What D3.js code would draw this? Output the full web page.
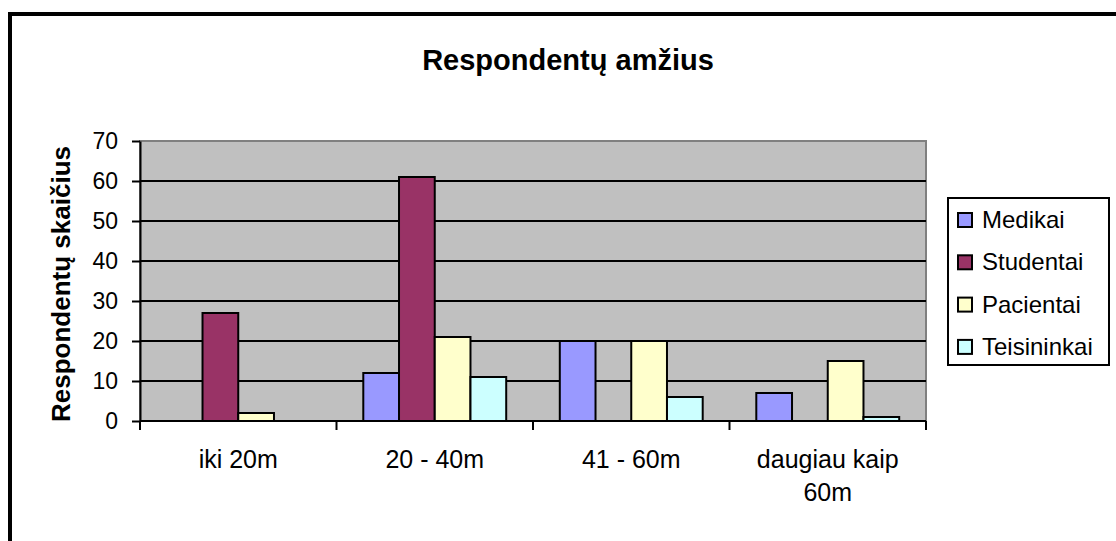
<!DOCTYPE html>
<html>
<head>
<meta charset="utf-8">
<script src="https://cdn.jsdelivr.net/npm/d3@7"></script>
<style>
  body { margin: 0; background: #fff; }
  text { font-family: "Liberation Sans", Arial, sans-serif; fill: #000; }
</style>
</head>
<body>
<svg id="chart" width="1116" height="541"></svg>
<script>
const categories = ["iki 20m", "20 - 40m", "41 - 60m", "daugiau kaip 60m"];
const seriesNames = ["Medikai", "Studentai", "Pacientai", "Teisininkai"];
const medikai = [0, 12, 20, 7];
const studentai = [27, 61, 0, 0];
const pacientai = [2, 21, 20, 15];
const teisininkai = [0, 11, 6, 1];
const yTicks = [0, 10, 20, 30, 40, 50, 60, 70];
const colors = ["#9999ff", "#993366", "#ffffcc", "#ccffff"];

const values = [medikai, studentai, pacientai, teisininkai];
const plot = { left: 140, top: 141, right: 926, bottom: 421 };

const svg = d3.select("#chart");

// outer chart frame (runs off the right and bottom of the picture)
svg.append("rect")
  .attr("x", 10).attr("y", 14)
  .attr("width", 1200).attr("height", 600)
  .attr("fill", "#fff")
  .attr("stroke", "#000")
  .attr("stroke-width", 4);

svg.append("text")
  .attr("x", 568).attr("y", 70)
  .attr("text-anchor", "middle")
  .style("font-size", "29px")
  .style("font-weight", "bold")
  .text("Respondentų amžius");

const x0 = d3.scaleBand()
  .domain(categories)
  .range([plot.left, plot.right]);

const x1 = d3.scaleBand()
  .domain(seriesNames)
  .range([0, x0.bandwidth()])
  .paddingOuter(0.75);

const y = d3.scaleLinear()
  .domain([0, 70])
  .range([plot.bottom, plot.top]);

// plot background
svg.append("rect")
  .attr("x", plot.left).attr("y", plot.top)
  .attr("width", plot.right - plot.left)
  .attr("height", plot.bottom - plot.top)
  .attr("fill", "#c0c0c0")
  .attr("stroke", "#808080")
  .attr("stroke-width", 2);

// gridlines
svg.append("g")
  .selectAll("line")
  .data(yTicks.filter(d => d > 0 && d < 70))
  .join("line")
    .attr("x1", plot.left).attr("x2", plot.right)
    .attr("y1", d => y(d)).attr("y2", d => y(d))
    .attr("stroke", "#000")
    .attr("stroke-width", 2);

// bars
const rows = categories.map((c, i) => ({ cat: c, vals: seriesNames.map((s, j) => ({ s: s, j: j, v: values[j][i] })) }));

svg.append("g")
  .selectAll("g")
  .data(rows)
  .join("g")
    .attr("transform", d => `translate(${x0(d.cat)},0)`)
  .selectAll("rect")
  .data(d => d.vals.filter(b => b.v > 0))
  .join("rect")
    .attr("x", d => x1(d.s))
    .attr("y", d => y(d.v))
    .attr("width", x1.bandwidth())
    .attr("height", d => y(0) - y(d.v))
    .attr("fill", d => colors[d.j])
    .attr("stroke", "#000")
    .attr("stroke-width", 2);

// y axis
const yAxis = svg.append("g")
  .attr("transform", `translate(${plot.left},0)`)
  .call(d3.axisLeft(y).tickValues(yTicks).tickSize(8).tickSizeOuter(0).tickPadding(14));
yAxis.select(".domain").attr("stroke", "#000").attr("stroke-width", 2);
yAxis.selectAll(".tick line").attr("stroke", "#000").attr("stroke-width", 2);
yAxis.selectAll(".tick text")
  .style("font-size", "23px")
  .style("font-family", "'Liberation Sans', Arial, sans-serif")
  .attr("fill", "#000");

svg.append("text")
  .attr("transform", "translate(70,284) rotate(-90)")
  .attr("text-anchor", "middle")
  .style("font-size", "26px")
  .style("font-weight", "bold")
  .text("Respondentų skaičius");

// x axis line and boundary ticks
svg.append("line")
  .attr("x1", plot.left).attr("x2", plot.right)
  .attr("y1", plot.bottom).attr("y2", plot.bottom)
  .attr("stroke", "#000").attr("stroke-width", 2);

const bounds = categories.map(c => x0(c)).concat([plot.right]);
svg.append("g")
  .selectAll("line")
  .data(bounds)
  .join("line")
    .attr("x1", d => d).attr("x2", d => d)
    .attr("y1", plot.bottom).attr("y2", plot.bottom + 9)
    .attr("stroke", "#000").attr("stroke-width", 2);

// category labels, wrapped when wider than the band
const catLabels = svg.append("g")
  .selectAll("text")
  .data(categories)
  .join("text")
    .attr("x", d => x0(d) + x0.bandwidth() / 2)
    .attr("y", 468)
    .attr("text-anchor", "middle")
    .style("font-size", "25px");

catLabels.each(function (d) {
  const t = d3.select(this);
  const words = d.split(" ");
  let line = [];
  let tspan = t.append("tspan").attr("x", t.attr("x")).attr("dy", 0);
  words.forEach(w => {
    line.push(w);
    tspan.text(line.join(" "));
    if (tspan.node().getComputedTextLength() > x0.bandwidth() * 0.9 && line.length > 1) {
      line.pop();
      tspan.text(line.join(" "));
      line = [w];
      tspan = t.append("tspan").attr("x", t.attr("x")).attr("dy", 33).text(w);
    }
  });
});

// legend
const legend = svg.append("g").attr("transform", "translate(948,198)");
legend.append("rect")
  .attr("width", 161).attr("height", 167)
  .attr("fill", "#fff")
  .attr("stroke", "#000")
  .attr("stroke-width", 2);

const items = legend.selectAll("g.item")
  .data(seriesNames)
  .join("g")
    .attr("class", "item")
    .attr("transform", (d, i) => `translate(0,${22 + i * 42.3})`);

items.append("rect")
  .attr("x", 10).attr("y", -7)
  .attr("width", 14).attr("height", 14)
  .attr("fill", (d, i) => colors[i])
  .attr("stroke", "#000")
  .attr("stroke-width", 2);

items.append("text")
  .attr("x", 34).attr("y", 8)
  .style("font-size", "24px")
  .text(d => d);
</script>
</body>
</html>
